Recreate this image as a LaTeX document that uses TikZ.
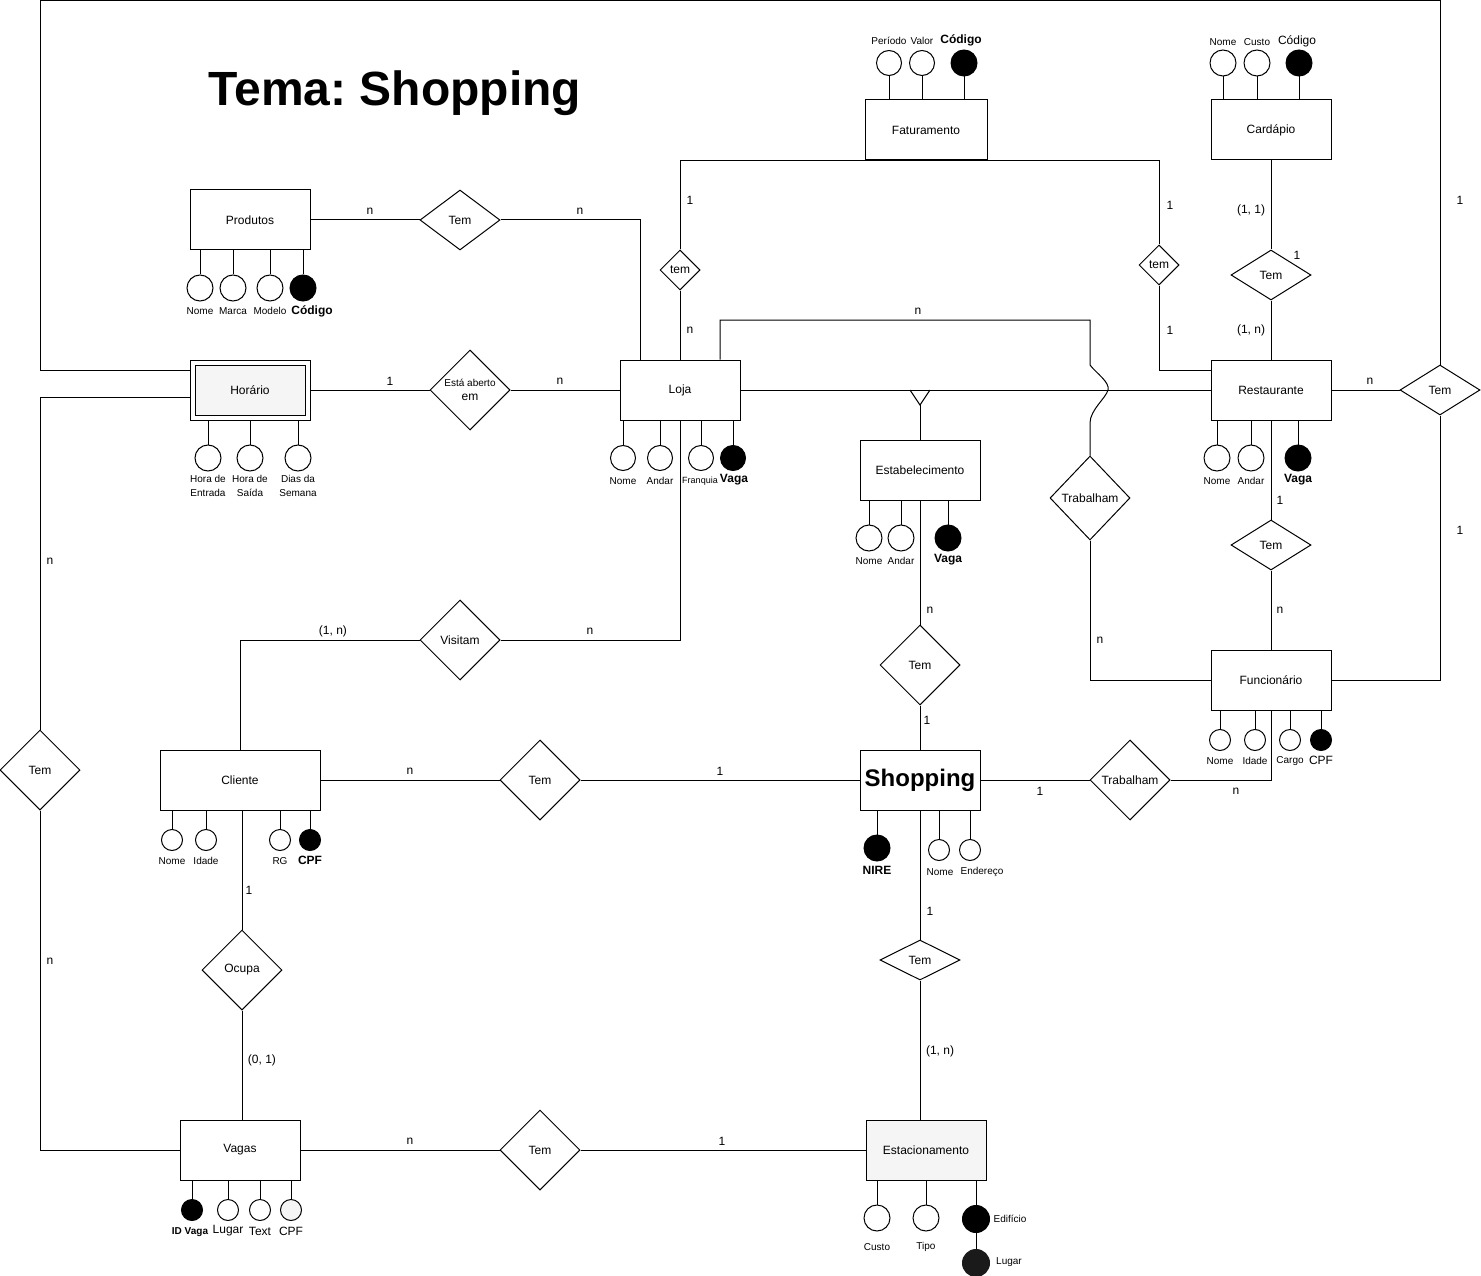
\documentclass[tikz,border=0pt]{standalone}
\usepackage{fontspec}
\setmainfont{Liberation Sans}
\usetikzlibrary{shapes.geometric,positioning,calc}
\definecolor{SG}{HTML}{F5F5F5}
\definecolor{DK}{HTML}{1A1A1A}

\tikzset{
  ent/.style={draw, rectangle, minimum width=120pt, minimum height=60pt,
    inner sep=0pt, fill=white, font=\fontsize{12}{14}\selectfont},
  rel/.style={draw, diamond, minimum width=80pt, minimum height=80pt,
    inner sep=0pt, fill=white, font=\fontsize{12}{14}\selectfont},
  atr/.style={draw, circle, minimum size=25pt, inner sep=0pt, fill=white},
  keyatr/.style={atr, fill=black},
  albl/.style={inner sep=0pt, font=\fontsize{10}{14}\selectfont, align=center},
  klbl/.style={inner sep=0pt, font=\bfseries\fontsize{12}{14}\selectfont},
  blbl/.style={inner sep=0pt, font=\fontsize{12}{14}\selectfont},
  card/.style={inner sep=0pt, font=\fontsize{12}{14}\selectfont},
}

\begin{document}
\begin{tikzpicture}[x=1pt,y=-1pt,line width=1pt]
\useasboundingbox (0,0) rectangle (1481,1276);

\node[inner sep=0pt, font=\bfseries\fontsize{48}{56}\selectfont] (titulo) at (395,93) {Tema:\ Shopping};

% entidades
\node[ent] (produtos) at (250,220) {Produtos};
\node[ent] (horario) at (250,390) {};
\node[ent, minimum width=110pt, minimum height=50pt, fill=SG] (horarioIn) at (horario) {Horário};
\node[ent] (loja) at (680,390) {Loja};
\node[ent, minimum width=122pt] (faturamento) at (926,130) {Faturamento};
\node[ent] (cardapio) at (1271,130) {Cardápio};
\node[ent] (restaurante) at (1271,390) {Restaurante};
\node[ent] (estab) at (920,470) {Estabelecimento};
\node[ent] (funcionario) at (1271,680) {Funcionário};
\node[ent, minimum width=160pt] (cliente) at (240,780) {Cliente};
\node[ent, font=\bfseries\fontsize{24}{28}\selectfont] (shopping) at (920,780) {Shopping};
\node[ent] (vagas) at (240,1150) {Vagas};
\node[ent, fill=SG] (estac) at (926,1150) {Estacionamento};

% relacionamentos
\node[rel, minimum height=60pt] (temProd) at (460,220) {Tem};
\node[rel, align=center] (aberto) at (470,390)
  {{\fontsize{10}{12}\selectfont Está aberto}\\em};
\node[rel, minimum width=40pt, minimum height=40pt] (temFat) at (680,270) {tem};
\node[rel, minimum width=40pt, minimum height=40pt] (temRestFat) at (1159,265) {tem};
\node[rel, minimum height=50pt] (temCard) at (1271,275) {Tem};
\node[rel, minimum height=50pt] (temFunc) at (1440,390) {Tem};
\node[rel, minimum height=84pt] (trabLoja) at (1090,498) {Trabalham};
\node[rel, minimum height=50pt] (temRestFunc) at (1271,545) {Tem};
\node[rel] (visitam) at (460,640) {Visitam};
\node[rel] (temEstab) at (920,665) {Tem};
\node[rel] (temHor) at (40,770) {Tem};
\node[rel] (temCli) at (540,780) {Tem};
\node[rel] (trabShop) at (1130,780) {Trabalham};
\node[rel] (ocupa) at (242,970) {Ocupa};
\node[rel, minimum height=40pt] (temEstac) at (920,960) {Tem};
\node[rel] (temVagas) at (540,1150) {Tem};

% ligacoes
\draw (produtos.east) -- (temProd.west);
\draw (temProd.east) -| ([xshift=-40pt]loja.north);
\draw (horario.east) -- (aberto.west);
\draw (aberto.east) -- (loja.west);
\draw (loja.north) -- (temFat.south);
\draw (temFat.north) |- (faturamento.south) -| (temRestFat.north);
\draw (temRestFat.south) |- ([yshift=20pt]restaurante.west);
\coordinate (wigTop) at (1090,365);
\coordinate (wigBot) at (1090,423);
\draw ([xshift=40pt]loja.north) |- (1090,320) -- (wigTop)
  .. controls (1096,373) and (1110,382) .. (1108,390)
  .. controls (1106,398) and (1090,410) .. (wigBot) -- (trabLoja.north);
\draw (trabLoja.south) |- (funcionario.west);
\draw (loja.east) -- (restaurante.west);
\coordinate (isa) at (estab.north |- loja.east);
\draw ([xshift=-10pt]isa) -- ([yshift=-15pt]isa) -- ([xshift=10pt]isa);
\draw ([yshift=-15pt]isa) -- (estab.north);
\draw (cardapio.south) -- (temCard.north);
\draw (temCard.south) -- (restaurante.north);
\draw (restaurante.east) -- (temFunc.west);
\coordinate (frameL) at (40,1);
\draw (temFunc.north) |- (frameL) |- ([yshift=20pt]horario.west);
\draw (temFunc.south) |- (funcionario.east);
\draw (restaurante.south) -- (temRestFunc.north);
\draw (temRestFunc.south) -- (funcionario.north);
\draw (estab.south) -- (temEstab.north);
\draw (temEstab.south) -- (shopping.north);
\draw (loja.south) |- (visitam.east);
\draw (visitam.west) -| (cliente.north);
\draw (cliente.east) -- (temCli.west);
\draw (temCli.east) -- (shopping.west);
\draw (shopping.east) -- (trabShop.west);
\draw (trabShop.east) -| (funcionario.south);
\draw ([yshift=-7pt]horario.west) -| (temHor.north);
\draw (temHor.south) |- (vagas.west);
\draw (ocupa.north |- cliente.south) -- (ocupa.north);
\draw (ocupa.south) -- (ocupa.south |- vagas.north);
\draw (vagas.east) -- (temVagas.west);
\draw (temVagas.east) -- (estac.west);
\draw (shopping.south) -- (temEstac.north);
\draw (temEstac.south) -- (temEstac.south |- estac.north);

% cardinalidades
\foreach \x/\y/\t [count=\i] in {370/211/n, 580/211/n, 390/381/1, 560/381/n,
    690/200/1, 690/330/n, 1170/205/1, 1170/330/1, 918/311/n,
    1251/210/{(1, 1)}, 1297/255/1, 1251/330/{(1, n)}, 1370/381/n,
    1460/200/1, 1460/530/1, 1280/500/1, 1280/610/n, 1100/640/n,
    930/610/n, 927/720/1, 333/631/{(1, n)}, 590/631/n, 410/771/n,
    720/771/1, 1040/791/1, 1236/791/n, 50/561/n, 50/961/n,
    249/890/1, 262/1060/{(0, 1)}, 410/1141/n, 722/1141/1,
    930/911/1, 940/1051/{(1, n)}}{
  \node[card] (card\i) at (\x,\y) {\t};
}

% atributos - Produtos
\foreach \x/\n/\t in {200/nome/Nome, 233/marca/Marca, 270/modelo/Modelo}{
  \node[atr, minimum size=26pt] (prod-\n) at (\x,288) {};
  \draw (prod-\n.north) -- (prod-\n.north |- produtos.south);
  \node[albl] (prod-\n-l) at (\x,311) {\t};
}
\node[keyatr, minimum size=26pt] (prod-cod) at (303,288) {};
\draw (prod-cod.north) -- (prod-cod.north |- produtos.south);
\node[klbl] (prod-cod-l) at (312,311) {Código};

% atributos - Faturamento
\foreach \x/\n/\t in {889/per/Período, 922/val/Valor}{
  \node[atr] (fat-\n) at (\x,63) {};
  \draw (fat-\n.south) -- (fat-\n.south |- faturamento.north);
  \node[albl] (fat-\n-l) at (\x,41) {\t};
}
\node[keyatr, minimum size=26pt] (fat-cod) at (964,63) {};
\draw (fat-cod.south) -- (fat-cod.south |- faturamento.north);
\node[klbl] (fat-cod-l) at (961,40) {Código};

% atributos - Cardapio
\foreach \x/\n/\t in {1223/nome/Nome, 1257/custo/Custo}{
  \node[atr, minimum size=26pt] (card-\n) at (\x,63) {};
  \draw (card-\n.south) -- (card-\n.south |- cardapio.north);
  \node[albl] (card-\n-l) at (\x,42) {\t};
}
\node[keyatr, minimum size=26pt] (card-cod) at (1299,63) {};
\draw (card-cod.south) -- (card-cod.south |- cardapio.north);
\node[blbl] (card-cod-l) at (1297,41) {Código};

% atributos - Horario
\foreach \x/\n/\t in {208/ent/{Hora de\\Entrada}, 250/sai/{Hora de\\Saída}, 298/dia/{Dias da\\Semana}}{
  \node[atr, minimum size=26pt] (hor-\n) at (\x,458) {};
  \draw (hor-\n.north) -- (hor-\n.north |- horario.south);
  \node[albl] (hor-\n-l) at (\x,486) {\t};
}

% atributos - Loja
\foreach \x/\n/\t in {623/nome/Nome, 660/andar/Andar}{
  \node[atr] (loja-\n) at (\x,458) {};
  \draw (loja-\n.north) -- (loja-\n.north |- loja.south);
  \node[albl] (loja-\n-l) at (\x,481) {\t};
}
\node[atr] (loja-franq) at (701,458) {};
\draw (loja-franq.north) -- (loja-franq.north |- loja.south);
\node[albl, font=\fontsize{9}{11}\selectfont] (loja-franq-l) at (700,481) {Franquia};
\node[keyatr] (loja-vaga) at (733,458) {};
\draw (loja-vaga.north) -- (loja-vaga.north |- loja.south);
\node[klbl] (loja-vaga-l) at (734,480) {Vaga};

% atributos - Restaurante
\foreach \x/\n/\t in {1217/nome/Nome, 1251/andar/Andar}{
  \node[atr, minimum size=26pt] (rest-\n) at (\x,458) {};
  \draw (rest-\n.north) -- (rest-\n.north |- restaurante.south);
  \node[albl] (rest-\n-l) at (\x,481) {\t};
}
\node[keyatr, minimum size=26pt] (rest-vaga) at (1298,458) {};
\draw (rest-vaga.north) -- (rest-vaga.north |- restaurante.south);
\node[klbl] (rest-vaga-l) at (1298,480) {Vaga};

% atributos - Estabelecimento
\foreach \x/\n/\t in {869/nome/Nome, 901/andar/Andar}{
  \node[atr, minimum size=26pt] (est-\n) at (\x,538) {};
  \draw (est-\n.north) -- (est-\n.north |- estab.south);
  \node[albl] (est-\n-l) at (\x,561) {\t};
}
\node[keyatr, minimum size=26pt] (est-vaga) at (948,538) {};
\draw (est-vaga.north) -- (est-vaga.north |- estab.south);
\node[klbl] (est-vaga-l) at (948,560) {Vaga};

% atributos - Funcionario
\foreach \x/\n/\t in {1220/nome/Nome, 1255/idade/Idade, 1290/cargo/Cargo}{
  \node[atr, minimum size=21pt] (func-\n) at (\x,740) {};
  \draw (func-\n.north) -- (func-\n.north |- funcionario.south);
  \node[albl] (func-\n-l) at (\x,761) {\t};
}
\node[keyatr, minimum size=21pt] (func-cpf) at (1321,740) {};
\draw (func-cpf.north) -- (func-cpf.north |- funcionario.south);
\node[blbl] (func-cpf-l) at (1321,760) {CPF};

% atributos - Cliente
\foreach \x/\n/\t in {172/nome/Nome, 206/idade/Idade, 280/rg/RG}{
  \node[atr, minimum size=21pt] (cli-\n) at (\x,840) {};
  \draw (cli-\n.north) -- (cli-\n.north |- cliente.south);
  \node[albl] (cli-\n-l) at (\x,861) {\t};
}
\node[keyatr, minimum size=21pt] (cli-cpf) at (310,840) {};
\draw (cli-cpf.north) -- (cli-cpf.north |- cliente.south);
\node[klbl] (cli-cpf-l) at (310,860) {CPF};

% atributos - Shopping
\node[keyatr, minimum size=26pt] (shop-nire) at (877,848) {};
\draw (shop-nire.north) -- (shop-nire.north |- shopping.south);
\node[klbl] (shop-nire-l) at (877,870) {NIRE};
\foreach \x/\n/\t/\lx in {939/nome/Nome/940, 970/end/Endereço/982}{
  \node[atr, minimum size=21pt] (shop-\n) at (\x,850) {};
  \draw (shop-\n.north) -- (shop-\n.north |- shopping.south);
  \node[albl] (shop-\n-l) at (\lx,872) {\t};
}

% atributos - Vagas
\node[keyatr, minimum size=21pt] (vag-id) at (192,1210) {};
\draw (vag-id.north) -- (vag-id.north |- vagas.south);
\node[inner sep=0pt, font=\bfseries\fontsize{10}{12}\selectfont] (vag-id-l) at (190,1232) {ID Vaga};
\foreach \x/\n/\t/\c in {228/lug/Lugar/white, 260/txt/Text/white, 291/cpf/CPF/SG}{
  \node[atr, minimum size=21pt, fill=\c] (vag-\n) at (\x,1210) {};
  \draw (vag-\n.north) -- (vag-\n.north |- vagas.south);
  \node[blbl] (vag-\n-l) at (\x,1231) {\t};
}

% atributos - Estacionamento
\foreach \x/\n/\t in {877/custo/Custo, 926/tipo/Tipo}{
  \node[atr, minimum size=26pt] (estac-\n) at (\x,1218) {};
  \draw (estac-\n.north) -- (estac-\n.north |- estac.south);
  \node[albl] (estac-\n-l) at (\x,1247) {\t};
}
\node[keyatr, minimum size=27pt] (estac-edif) at (976,1219) {};
\draw (estac-edif.north) -- (estac-edif.north |- estac.south);
\node[albl] (estac-edif-l) at (1010,1219) {Edifício};
\node[keyatr, minimum size=27pt, fill=DK, draw=DK] (estac-lug) at (976,1263) {};
\draw (estac-edif.south) -- (estac-lug.north);
\node[albl] (estac-lug-l) at (1009,1262) {Lugar};

\end{tikzpicture}
\end{document}
